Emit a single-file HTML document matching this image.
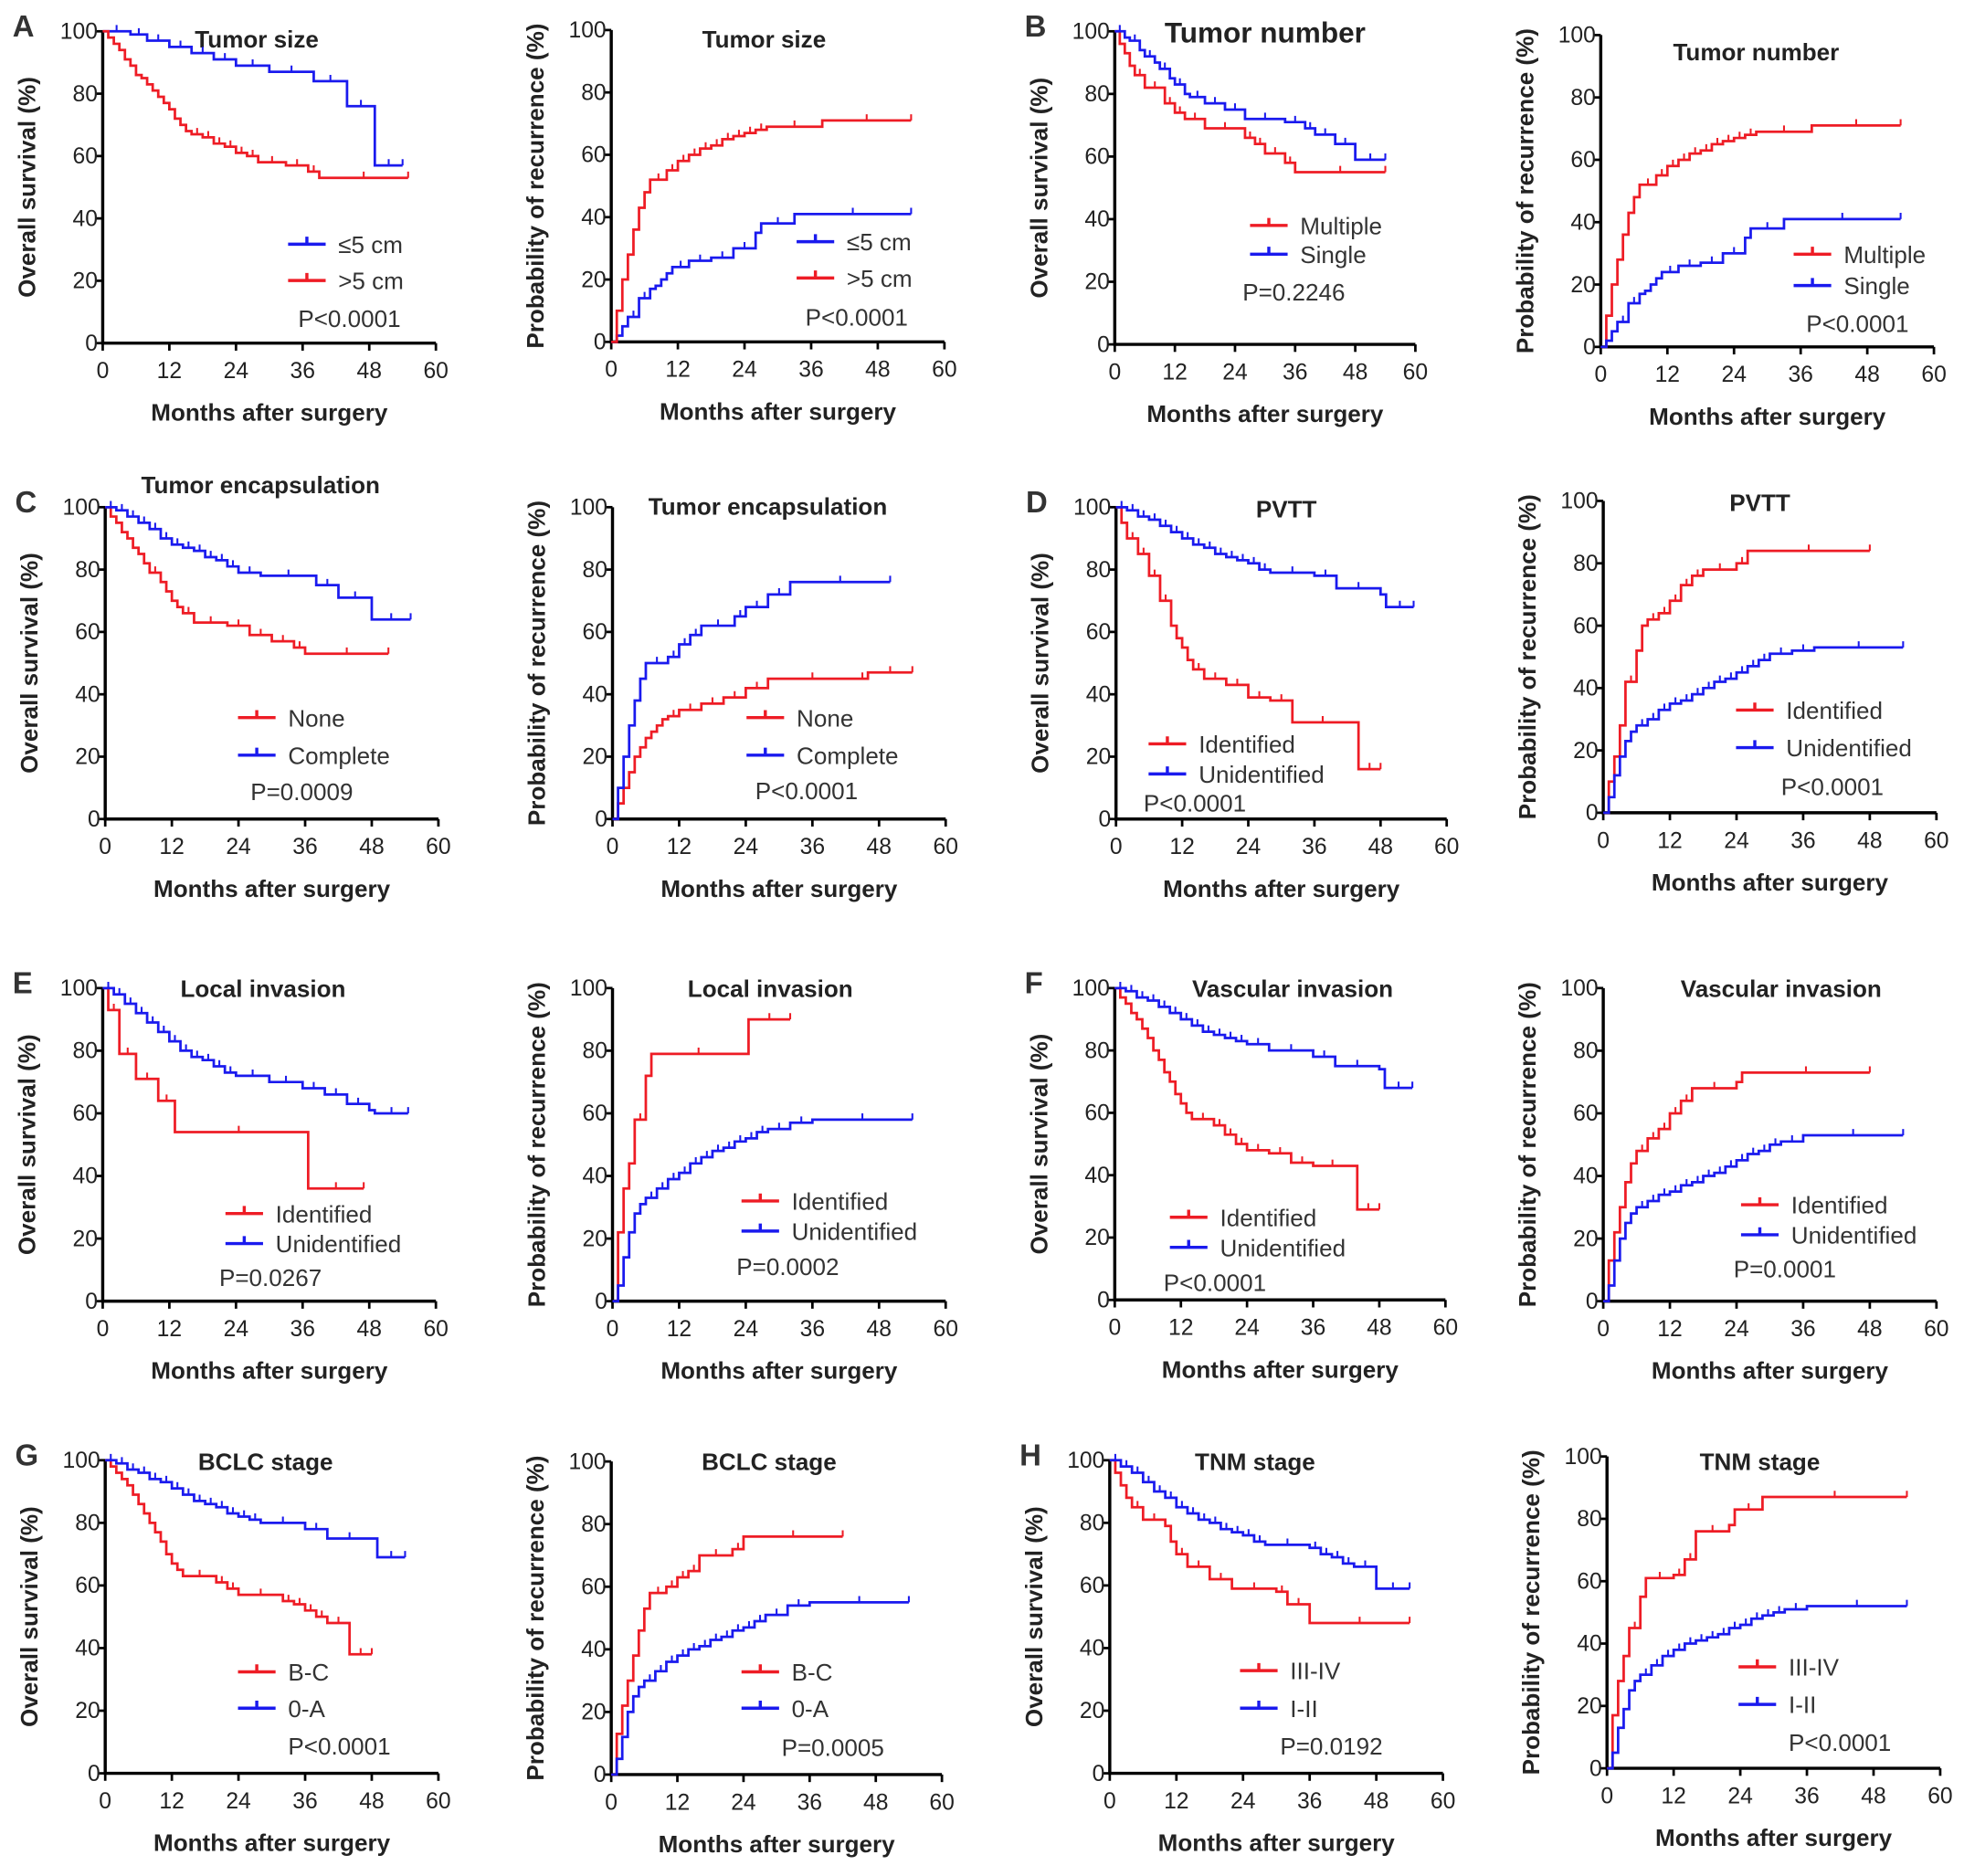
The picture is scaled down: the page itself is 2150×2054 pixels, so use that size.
<!DOCTYPE html>
<html><head><meta charset="utf-8">
<style>
html,body{margin:0;padding:0;background:#fff;}
svg{display:block;font-family:"Liberation Sans",Arial,sans-serif;}
</style></head>
<body>
<svg id="fig" width="2150" height="2054" viewBox="0 0 1568 1498" xmlns="http://www.w3.org/2000/svg"></svg>
<script>
// ---- data: [month, percent] step points ----
const aOsBlue=[[0,100],[5,99],[8,97],[12,95],[16,93],[20,91],[24,89],[30,87],[38,84],[44,76],[49,57],[54,57]];
const aOsRed=[[0,100],[1,98],[2,96],[3,94],[4,91],[5,89],[6,86],[7,85],[8,83],[9,81],[10,79],[11,77],[12,75],[13,72],[14,70],[15,68],[16,67],[18,66],[20,64],[22,63],[24,61],[26,60],[28,58],[33,57],[37,55],[39,53],[55,53]];
const aRecRed=[[0,0],[1,10],[2,20],[3,28],[4,36],[5,43],[6,48],[7,52],[10,55],[12,58],[14,60],[16,62],[18,63],[20,65],[22,66],[24,67],[26,68],[28,69],[38,71],[54,71]];
const aRecBlue=[[0,0],[1,2],[2,5],[3,8],[5,14],[7,17],[8,18],[9,20],[10,22],[11,24],[14,26],[18,27],[22,30],[26,35],[27,38],[33,41],[54,41]];
const bOsRed=[[0,100],[1,96],[2,93],[3,89],[4,86],[6,82],[10,77],[12,74],[14,72],[18,69],[26,66],[28,64],[30,61],[34,58],[36,55],[54,55]];
const bOsBlue=[[0,100],[2,98],[3,97],[5,94],[6,92],[8,90],[9,88],[11,85],[12,83],[14,80],[15,79],[18,77],[22,75],[26,72],[34,71],[38,69],[40,67],[44,64],[48,59],[54,59]];
const bRecRed=[[0,0],[1,10],[2,20],[3,28],[4,36],[5,43],[6,48],[7,52],[10,55],[12,58],[14,60],[16,62],[18,63],[20,65],[22,66],[24,67],[26,68],[28,69],[38,71],[54,71]];
const bRecBlue=[[0,0],[1,2],[2,5],[3,8],[5,14],[7,17],[8,18],[9,20],[10,22],[11,24],[14,26],[18,27],[22,30],[26,35],[27,38],[33,41],[54,41]];
const cOsRed=[[0,100],[1,97],[2,95],[3,92],[4,90],[5,87],[6,85],[7,82],[8,79],[10,76],[11,73],[12,70],[13,68],[14,66],[16,63],[22,62],[26,59],[30,57],[34,55],[36,53],[51,53]];
const cOsBlue=[[0,100],[2,99],[4,97],[6,95],[8,93],[10,90],[12,88],[14,87],[16,86],[18,84],[20,83],[22,81],[24,79],[28,78],[38,75],[42,71],[48,64],[55,64]];
const cRecBlue=[[0,0],[1,10],[2,20],[3,30],[4,38],[5,45],[6,50],[10,52],[12,56],[14,59],[16,62],[22,65],[24,68],[28,72],[32,76],[50,76]];
const cRecRed=[[0,0],[1,5],[2,10],[3,15],[4,20],[5,23],[6,26],[7,28],[8,30],[9,32],[10,33],[12,35],[16,37],[20,39],[24,42],[28,45],[44,45],[46,47],[54,47]];
const dOsRed=[[0,100],[1,95],[2,90],[4,85],[6,78],[8,70],[10,62],[11,58],[12,55],[13,51],[14,48],[16,45],[20,43],[24,39],[28,38],[32,31],[43,31],[44,16],[48,16]];
const dOsBlue=[[0,100],[2,99],[4,97],[6,96],[8,94],[10,92],[12,90],[14,88],[16,87],[18,85],[20,84],[22,83],[24,82],[26,80],[28,79],[36,78],[40,74],[48,72],[49,68],[54,68]];
const dRecRed=[[0,0],[1,10],[2,18],[3,28],[4,42],[6,52],[7,60],[8,62],[10,64],[12,68],[14,73],[16,76],[18,78],[24,80],[26,84],[48,84]];
const dRecBlue=[[0,0],[1,5],[2,12],[3,18],[4,23],[5,26],[6,28],[8,30],[10,33],[12,35],[14,36],[16,38],[18,40],[20,42],[22,43],[24,45],[26,47],[28,49],[30,51],[34,52],[38,53],[54,53]];
const eOsRed=[[0,100],[1,93],[3,79],[6,71],[10,64],[13,54],[36,54],[37,36],[47,36]];
const eOsBlue=[[0,100],[2,98],[4,95],[6,92],[8,89],[10,86],[12,83],[14,80],[16,78],[18,77],[20,75],[22,73],[24,72],[30,70],[36,68],[40,66],[44,63],[48,61],[49,60],[55,60]];
const eRecRed=[[0,0],[1,22],[2,36],[3,44],[4,58],[6,72],[7,79],[24,79],[24.5,90],[32,90]];
const eRecBlue=[[0,0],[1,5],[2,14],[3,22],[4,28],[5,31],[6,33],[8,36],[10,39],[12,41],[14,44],[16,46],[18,48],[20,49],[22,51],[24,52],[26,54],[28,55],[32,57],[36,58],[54,58]];
const fOsRed=[[0,100],[1,97],[2,95],[3,92],[4,90],[5,87],[6,84],[7,80],[8,77],[9,73],[10,70],[11,66],[12,63],[13,60],[14,58],[18,56],[20,53],[22,50],[24,48],[28,47],[32,44],[36,43],[43,43],[44,29],[48,29]];
const fOsBlue=[[0,100],[2,99],[4,97],[6,96],[8,94],[10,92],[12,90],[14,88],[16,86],[18,85],[20,84],[22,83],[24,82],[28,80],[36,78],[40,75],[48,74],[49,68],[54,68]];
const fRecRed=[[0,0],[1,13],[2,22],[3,30],[4,38],[5,44],[6,48],[8,52],[10,55],[12,60],[14,64],[16,68],[24,70],[25,73],[48,73]];
const fRecBlue=[[0,0],[1,5],[2,13],[3,20],[4,25],[5,28],[6,30],[8,32],[10,34],[12,35],[14,37],[16,38],[18,40],[20,41],[22,43],[24,45],[26,47],[28,48],[30,50],[32,51],[36,53],[54,53]];
const gOsRed=[[0,100],[1,98],[2,96],[3,94],[4,92],[5,89],[6,86],[7,83],[8,80],[9,77],[10,74],[11,70],[12,67],[13,65],[14,63],[20,61],[22,59],[24,57],[32,55],[34,54],[36,52],[38,50],[40,48],[44,38],[48,38]];
const gOsBlue=[[0,100],[2,99],[4,97],[6,96],[8,94],[10,93],[12,91],[14,89],[16,87],[18,86],[20,85],[22,83],[24,82],[26,81],[28,80],[36,78],[40,75],[48,75],[49,69],[54,69]];
const gRecRed=[[0,0],[1,13],[2,22],[3,30],[4,38],[5,46],[6,53],[7,58],[10,60],[12,63],[14,65],[16,70],[22,72],[24,76],[42,76]];
const gRecBlue=[[0,0],[1,5],[2,12],[3,20],[4,25],[5,28],[6,30],[8,33],[10,36],[12,38],[14,40],[16,41],[18,43],[20,44],[22,46],[24,47],[26,49],[28,51],[32,54],[36,55],[54,55]];
const hOsRed=[[0,100],[1,96],[2,92],[3,88],[4,85],[6,81],[10,79],[11,74],[12,70],[14,66],[18,62],[22,59],[30,58],[32,54],[36,48],[54,48]];
const hOsBlue=[[0,100],[2,98],[4,96],[6,93],[8,90],[10,88],[12,85],[14,83],[16,81],[18,80],[20,78],[22,77],[24,76],[26,74],[28,73],[36,72],[38,70],[40,69],[42,67],[44,66],[48,59],[54,59]];
const hRecRed=[[0,0],[1,17],[2,28],[3,36],[4,45],[6,55],[7,61],[12,62],[14,67],[16,76],[22,78],[23,83],[28,87],[54,87]];
const hRecBlue=[[0,0],[1,5],[2,13],[3,19],[4,25],[5,28],[6,30],[8,33],[10,36],[12,38],[14,40],[16,41],[18,42],[20,43],[22,45],[24,46],[26,48],[28,49],[30,50],[32,51],[36,52],[54,52]];
const xTicks=[0,12,24,36,48,60];
const yTicks=[0,20,40,60,80,100];

const RED='#ee1c25', BLUE='#1a1aee';
const NS='http://www.w3.org/2000/svg';
const svg=document.getElementById('fig');
function mk(tag,attrs,parent){const e=document.createElementNS(NS,tag);for(const k in attrs)e.setAttribute(k,attrs[k]);(parent||svg).appendChild(e);return e;}

const panels=[
 {id:'a-os',x0:82,x1:348,yt:25,yb:274,os:true,title:'Tumor size',tx:205,ty:38,s:[[aOsBlue,BLUE,'≤5 cm',230,195],[aOsRed,RED,'>5 cm',230,224]],p:'P<0.0001',px:238,py:261,letter:'A'},
 {id:'a-rec',x0:488,x1:754,yt:24,yb:273,os:false,title:'Tumor size',tx:610,ty:38,s:[[aRecBlue,BLUE,'≤5 cm',636,193],[aRecRed,RED,'>5 cm',636,222]],p:'P<0.0001',px:643,py:260},
 {id:'b-os',x0:890,x1:1130,yt:25,yb:275,os:true,title:'Tumor number',tx:1010,ty:34,big:true,s:[[bOsRed,RED,'Multiple',998,180],[bOsBlue,BLUE,'Single',998,203]],p:'P=0.2246',px:992,py:240,letter:'B'},
 {id:'b-rec',x0:1278,x1:1544,yt:28,yb:277,os:false,title:'Tumor number',tx:1402,ty:48,s:[[bRecRed,RED,'Multiple',1432,203],[bRecBlue,BLUE,'Single',1432,228]],p:'P<0.0001',px:1442,py:265},
 {id:'c-os',x0:84,x1:350,yt:405,yb:654,os:true,title:'Tumor encapsulation',tx:208,ty:394,s:[[cOsRed,RED,'None',190,573],[cOsBlue,BLUE,'Complete',190,603]],p:'P=0.0009',px:200,py:639,letter:'C'},
 {id:'c-rec',x0:489,x1:755,yt:405,yb:654,os:false,title:'Tumor encapsulation',tx:613,ty:411,s:[[cRecRed,RED,'None',596,573],[cRecBlue,BLUE,'Complete',596,603]],p:'P<0.0001',px:603,py:638},
 {id:'d-os',x0:891,x1:1155,yt:405,yb:654,os:true,title:'PVTT',tx:1027,ty:413,s:[[dOsRed,RED,'Identified',917,594],[dOsBlue,BLUE,'Unidentified',917,618]],p:'P<0.0001',px:913,py:648,letter:'D'},
 {id:'d-rec',x0:1280,x1:1546,yt:400,yb:649,os:false,title:'PVTT',tx:1405,ty:408,s:[[dRecRed,RED,'Identified',1386,567],[dRecBlue,BLUE,'Unidentified',1386,597]],p:'P<0.0001',px:1422,py:635},
 {id:'e-os',x0:82,x1:348,yt:789,yb:1039,os:true,title:'Local invasion',tx:210,ty:796,s:[[eOsRed,RED,'Identified',180,969],[eOsBlue,BLUE,'Unidentified',180,993]],p:'P=0.0267',px:175,py:1027,letter:'E'},
 {id:'e-rec',x0:489,x1:755,yt:789,yb:1039,os:false,title:'Local invasion',tx:615,ty:796,s:[[eRecRed,RED,'Identified',592,959],[eRecBlue,BLUE,'Unidentified',592,983]],p:'P=0.0002',px:588,py:1018},
 {id:'f-os',x0:890,x1:1154,yt:789,yb:1038,os:true,title:'Vascular invasion',tx:1032,ty:796,s:[[fOsRed,RED,'Identified',934,972],[fOsBlue,BLUE,'Unidentified',934,996]],p:'P<0.0001',px:929,py:1031,letter:'F'},
 {id:'f-rec',x0:1280,x1:1546,yt:789,yb:1039,os:false,title:'Vascular invasion',tx:1422,ty:796,s:[[fRecRed,RED,'Identified',1390,962],[fRecBlue,BLUE,'Unidentified',1390,986]],p:'P=0.0001',px:1384,py:1020},
 {id:'g-os',x0:84,x1:350,yt:1166,yb:1416,os:true,title:'BCLC stage',tx:212,ty:1174,s:[[gOsRed,RED,'B-C',190,1335],[gOsBlue,BLUE,'0-A',190,1364]],p:'P<0.0001',px:230,py:1401,letter:'G'},
 {id:'g-rec',x0:488,x1:752,yt:1167,yb:1417,os:false,title:'BCLC stage',tx:614,ty:1174,s:[[gRecRed,RED,'B-C',592,1335],[gRecBlue,BLUE,'0-A',592,1364]],p:'P=0.0005',px:624,py:1402},
 {id:'h-os',x0:886,x1:1152,yt:1166,yb:1416,os:true,title:'TNM stage',tx:1002,ty:1174,s:[[hOsRed,RED,'III-IV',990,1334],[hOsBlue,BLUE,'I-II',990,1364]],p:'P=0.0192',px:1022,py:1401,letter:'H'},
 {id:'h-rec',x0:1283,x1:1549,yt:1163,yb:1412,os:false,title:'TNM stage',tx:1405,ty:1174,s:[[hRecRed,RED,'III-IV',1388,1331],[hRecBlue,BLUE,'I-II',1388,1361]],p:'P<0.0001',px:1428,py:1398}
];

panels.forEach(P=>{
  const g=mk('g',{});
  
  
  const X=t=>P.x0+(P.x1-P.x0)*t/60;
  const Y=v=>P.yb-(P.yb-P.yt)*v/100;
  const ax=mk('path',{d:`M${P.x0},${P.yt}V${P.yb}H${P.x1}`,stroke:'#000','stroke-width':2.5,fill:'none'},g);
  
  
  yTicks.forEach(v=>{
    mk('line',{x1:P.x0-6,x2:P.x0,y1:Y(v),y2:Y(v),stroke:'#000','stroke-width':2},g);
    const t=mk('text',{x:P.x0-4,y:Y(v)+6,'text-anchor':'end','font-size':18,fill:'#222'},g);
    t.textContent=v;
    
    
  });
  xTicks.forEach(v=>{
    mk('line',{x1:X(v),x2:X(v),y1:P.yb,y2:P.yb+6,stroke:'#000','stroke-width':2},g);
    const t=mk('text',{x:X(v),y:P.yb+28,'text-anchor':'middle','font-size':18,fill:'#222'},g);
    t.textContent=v;
    
    
  });
  const xt=mk('text',{x:(P.x0+P.x1)/2,y:P.yb+62,'text-anchor':'middle','font-size':19,'font-weight':'bold',fill:'#222'},g);
  xt.textContent='Months after surgery';
  
  
  const cy=(P.yt+P.yb)/2, cx=P.x0-54;
  const yt=mk('text',{x:cx,y:cy,'text-anchor':'middle','font-size':19,'font-weight':'bold',fill:'#222',transform:`rotate(-90 ${cx} ${cy})`},g);
  yt.textContent=P.os?'Overall survival (%)':'Probability of recurrence (%)';
  
  
  const ti=mk('text',{x:P.tx,y:P.ty,'text-anchor':'middle','font-size':P.big?23:19,'font-weight':'bold',fill:'#222'},g);
  ti.textContent=P.title;
  
  
  if(P.letter){
    const L=mk('text',{x:P.x0-72,y:P.yt+4,'font-size':24,'font-weight':'bold',fill:'#333'},g);
    L.textContent=P.letter;
    
    
  }
  P.s.forEach(([data,col,label,lx,ly])=>{
    let d=`M${X(data[0][0])},${Y(data[0][1])}`;
    for(let i=1;i<data.length;i++){d+=`H${X(data[i][0])}V${Y(data[i][1])}`;}
    const c=mk('path',{d:d,stroke:col,'stroke-width':2,fill:'none'},g);
    
    
    let td='';
    for(let i=1;i<data.length;i++){
      const tm=(data[i-1][0]+data[i][0])/2;
      if(data[i][0]-data[i-1][0]>=2) td+=`M${X(tm)},${Y(data[i-1][1])-5}v5`;
    }
    const last=data[data.length-1];
    td+=`M${X(last[0])},${Y(last[1])-5}v5`;
    const ck=mk('path',{d:td,stroke:col,'stroke-width':1.5,fill:'none'},g);
    
    
    const le=mk('g',{},g);
    
    
    mk('path',{d:`M${lx},${ly}h30M${lx+15},${ly}v-6`,stroke:col,'stroke-width':2.5,fill:'none'},le);
    const lt=mk('text',{x:lx+40,y:ly+7,'font-size':19,fill:'#333'},le);
    lt.textContent=label;
  });
  const pt=mk('text',{x:P.px,y:P.py,'font-size':19,fill:'#333'},g);
  pt.textContent=P.p;
  
  
});
</script>
</body></html>
